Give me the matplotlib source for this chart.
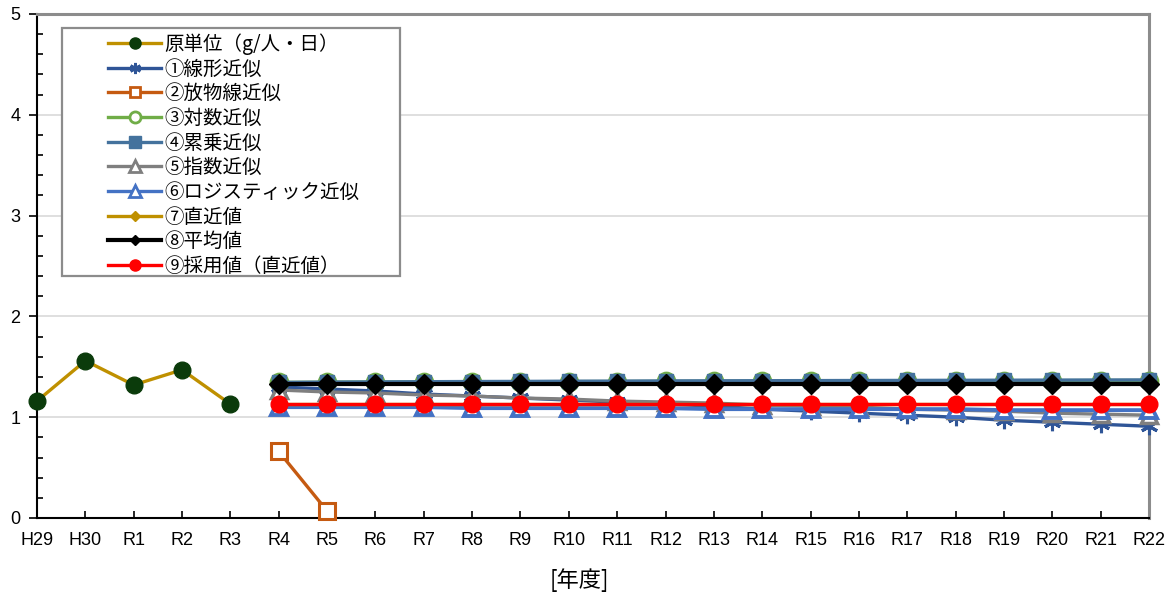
import matplotlib
matplotlib.use("Agg")
import matplotlib.pyplot as plt
from matplotlib.lines import Line2D
from matplotlib.patches import Rectangle
from matplotlib.ticker import MultipleLocator
import numpy as np

# 年度
years = ["H29", "H30", "R1", "R2", "R3", "R4", "R5", "R6", "R7", "R8", "R9",
         "R10", "R11", "R12", "R13", "R14", "R15", "R16", "R17", "R18", "R19",
         "R20", "R21", "R22"]

# 実績（原単位 g/人・日）
actual = [1.16, 1.56, 1.32, 1.47, 1.13]

# 将来推計（R4〜R22）
linear = [1.30, 1.28, 1.26, 1.23, 1.21, 1.19, 1.17, 1.15, 1.13, 1.11,
          1.08, 1.06, 1.04, 1.02, 1.00, 0.97, 0.95, 0.93, 0.91]
parabola = [0.66, 0.07]
log_fit = [1.345, 1.347, 1.349, 1.350, 1.351, 1.352, 1.353, 1.354, 1.355, 1.356,
           1.357, 1.358, 1.359, 1.360, 1.361, 1.362, 1.363, 1.364, 1.364]
power_fit = [1.345, 1.348, 1.350, 1.352, 1.354, 1.355, 1.357, 1.358, 1.360, 1.361,
             1.362, 1.363, 1.364, 1.365, 1.366, 1.367, 1.368, 1.369, 1.370]
exp_fit = [1.27, 1.25, 1.24, 1.22, 1.21, 1.19, 1.18, 1.16, 1.15, 1.14,
           1.12, 1.11, 1.10, 1.08, 1.07, 1.06, 1.04, 1.03, 1.02]
logistic = [1.10, 1.10, 1.10, 1.10, 1.09, 1.09, 1.09, 1.09, 1.09, 1.08,
            1.08, 1.08, 1.08, 1.08, 1.08, 1.07, 1.07, 1.07, 1.07]
latest = [1.13, 1.13, 1.13, 1.13, 1.13, 1.13, 1.13, 1.13, 1.13, 1.13,
          1.13, 1.13, 1.13, 1.13, 1.13, 1.13, 1.13, 1.13, 1.13]
average = [1.334, 1.334, 1.334, 1.334, 1.334, 1.334, 1.334, 1.334, 1.334, 1.334,
           1.334, 1.334, 1.334, 1.334, 1.334, 1.334, 1.334, 1.334, 1.334]
adopted = [1.13, 1.13, 1.13, 1.13, 1.13, 1.13, 1.13, 1.13, 1.13, 1.13,
           1.13, 1.13, 1.13, 1.13, 1.13, 1.13, 1.13, 1.13, 1.13]

labels = ["原単位（g/人・日）", "①線形近似", "②放物線近似", "③対数近似", "④累乗近似",
          "⑤指数近似", "⑥ロジスティック近似", "⑦直近値", "⑧平均値", "⑨採用値（直近値）"]

plt.rcParams["font.family"] = ["Liberation Sans", "Noto Sans CJK JP", "DejaVu Sans"]

W, H = 1173, 595
fig = plt.figure(figsize=(W / 100, H / 100), dpi=100)
ax = fig.add_axes([37 / W, 77 / H, 1112 / W, 504 / H])

x_all = np.arange(len(years))
x_act = x_all[:len(actual)]
x_proj = x_all[5:]

GOLD = "#BF9000"
GREEN_DARK = "#0B3B0B"
STAR = (6, 2, 0)
styles = [
    dict(color=GOLD, lw=2.4, marker="o", ms=12, mfc=GREEN_DARK, mec=GREEN_DARK),
    dict(color="#2F5597", lw=2.4, marker=STAR, ms=12.5, mec="#2F5597", mew=2.2),
    dict(color="#C55A11", lw=2.4, marker="s", ms=11, mfc="white", mec="#C55A11", mew=2.2),
    dict(color="#70AD47", lw=2.4, marker="o", ms=12, mfc="white", mec="#70AD47", mew=2.2),
    dict(color="#44729D", lw=2.4, marker="s", ms=9.5, mfc="#44729D", mec="#44729D"),
    dict(color="#7F7F7F", lw=2.4, marker="^", ms=11, mfc="white", mec="#7F7F7F", mew=2.5),
    dict(color="#4472C4", lw=2.8, marker="^", ms=11, mfc="white", mec="#4472C4", mew=2.8),
    dict(color=GOLD, lw=2.4, marker="D", ms=6, mfc=GOLD, mec=GOLD),
    dict(color="black", lw=3.0, marker="D", ms=10.5, mfc="black", mec="black"),
    dict(color="#FF0000", lw=2.4, marker="o", ms=12, mfc="#FF0000", mec="#FF0000"),
]

series = [
    (x_act, actual),
    (x_proj, linear),
    (x_proj[:len(parabola)], parabola),
    (x_proj, log_fit),
    (x_proj, power_fit),
    (x_proj, exp_fit),
    (x_proj, logistic),
    (x_proj, latest),
    (x_proj, average),
    (x_proj, adopted),
]

for i, ((xs, ys), st) in enumerate(zip(series, styles)):
    ax.plot(xs, ys, clip_on=False, zorder=3 + i, solid_capstyle="butt", **st)

ax.set_xlim(0, len(years) - 1)
ax.set_ylim(0, 5)
ax.set_xticks(x_all)
ax.set_xticklabels(years, fontsize=13)
ax.yaxis.set_major_locator(MultipleLocator(1))
ax.yaxis.set_minor_locator(MultipleLocator(0.2))
ax.tick_params(axis="y", which="major", direction="out", length=6, width=1.2,
               labelsize=13, pad=6)
ax.tick_params(axis="y", which="minor", direction="in", length=4, width=1.2)
ax.tick_params(axis="x", which="major", direction="in", length=5, width=1.2, pad=10)

ax.grid(axis="y", which="major", color="#D9D9D9", lw=1.2, zorder=0)
ax.set_axisbelow(True)
for side in ("top", "right"):
    ax.spines[side].set_color("#8C8C8C")
    ax.spines[side].set_linewidth(2.2)
for side in ("left", "bottom"):
    ax.spines[side].set_color("black")
    ax.spines[side].set_linewidth(1.5)
    ax.spines[side].set_zorder(2.5)

fig.text(579 / W, 1 - 580 / H, "[年度]", ha="center", va="center",
         fontsize=16, family=["Noto Sans CJK JP"])

# 凡例の枠
frame = Rectangle((62 / W, 1 - 276 / H), 338 / W, 248 / H, transform=fig.transFigure,
                  facecolor="white", edgecolor="#8C8C8C", lw=1.6, zorder=4)
fig.add_artist(frame)

legend_styles = [
    dict(color=GOLD, lw=2.4, marker="o", ms=8, mfc=GREEN_DARK, mec=GREEN_DARK),
    dict(color="#2F5597", lw=2.4, marker=STAR, ms=8, mec="#2F5597", mew=2),
    dict(color="#C55A11", lw=2.4, marker="s", ms=7, mfc="white", mec="#C55A11", mew=2),
    dict(color="#70AD47", lw=2.4, marker="o", ms=8, mfc="white", mec="#70AD47", mew=2),
    dict(color="#44729D", lw=2.4, marker="s", ms=8, mfc="#44729D", mec="#44729D"),
    dict(color="#7F7F7F", lw=2.4, marker="^", ms=8, mfc="white", mec="#7F7F7F", mew=2),
    dict(color="#4472C4", lw=2.4, marker="^", ms=8, mfc="white", mec="#4472C4", mew=2),
    dict(color=GOLD, lw=2.4, marker="D", ms=5, mfc=GOLD, mec=GOLD),
    dict(color="black", lw=3.0, marker="D", ms=5.5, mfc="black", mec="black"),
    dict(color="#FF0000", lw=2.4, marker="o", ms=8, mfc="#FF0000", mec="#FF0000"),
]
handles = [Line2D([], [], **st) for st in legend_styles]
leg = fig.legend(handles, labels, loc="upper left",
                 bbox_to_anchor=(108 / W, 1 - 33 / H), bbox_transform=fig.transFigure,
                 prop=dict(family=["Noto Sans CJK JP"], size=14),
                 frameon=False, handlelength=2.75, handletextpad=0.15,
                 labelspacing=0.19, borderpad=0, borderaxespad=0)
leg.set_zorder(5)

fig.savefig("out.png", dpi=100, facecolor="white")
